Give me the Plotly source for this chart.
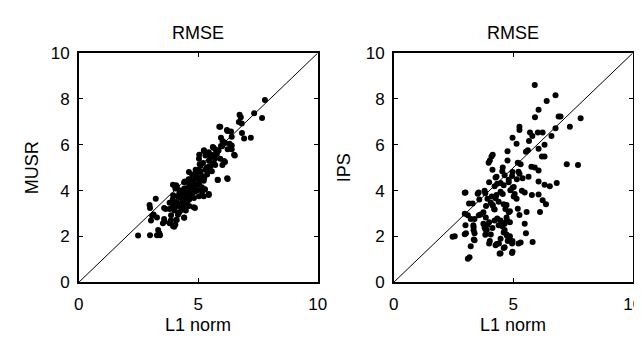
import plotly.graph_objects as go

# ---------------- data ----------------
# Left panel: L1 norm RMSE (x) vs MUSR RMSE (y)
musr_x = [
    7.79, 7.34, 7.67, 6.73, 6.78, 6.82, 6.70, 6.37, 6.83, 6.92, 7.20, 5.88, 6.20, 5.95, 6.03,
    6.31, 6.40, 6.50, 6.21, 5.81, 5.44, 5.28, 5.04, 5.24, 5.61, 5.78, 6.08, 5.61, 5.06, 4.94,
    4.61, 4.69, 4.44, 4.61, 4.81, 4.41, 4.10, 3.94, 3.99, 3.85, 3.57, 3.52, 3.27, 3.57, 3.94,
    4.10, 3.22, 2.96, 2.98, 3.13, 3.07, 3.02, 3.32, 3.37, 3.27, 3.40, 2.98, 2.48, 4.41,
    5.92, 6.22, 6.40, 6.02, 6.12, 6.53, 6.38, 6.40, 6.23, 6.00, 5.71, 5.64, 5.44, 5.23, 5.03,
    5.30, 5.50, 5.78, 5.92, 6.12, 6.01, 5.71, 5.44, 5.57, 5.30, 5.10, 4.89, 4.75, 4.96, 5.16,
    5.37, 5.82, 6.23, 5.23, 5.03, 4.82, 4.62, 4.41, 4.07, 4.04, 4.21, 4.41, 4.55, 4.75, 4.96,
    5.16, 5.27, 5.44, 5.23, 5.03, 4.82, 4.62, 4.34, 4.14, 3.93, 3.80, 3.96, 4.18, 4.41, 4.62,
    4.86, 4.48, 4.21, 4.00, 3.80, 3.63, 3.86, 4.04, 3.80, 3.59, 4.07, 4.41,
    4.10, 4.25, 4.35, 4.50, 4.60, 4.70, 4.80, 4.90, 5.00, 5.10, 5.20, 5.35, 5.45, 5.60, 5.70,
    5.85, 5.95, 4.30, 4.45, 4.55, 4.65, 4.75, 4.85, 4.95, 5.05, 5.15, 4.20, 4.05, 3.95, 4.50,
    4.65, 4.40, 4.30, 4.15, 3.90, 4.90, 5.25, 5.40, 5.50, 5.65,
]
musr_y = [
    7.95, 7.38, 7.17, 7.31, 7.20, 6.93, 7.00, 6.58, 6.52, 6.27, 6.31, 6.79, 6.65, 6.31, 6.15,
    6.04, 5.97, 5.56, 4.54, 4.47, 3.85, 4.06, 5.56, 5.76, 5.90, 5.70, 5.29, 5.15, 5.15, 4.74,
    4.81, 4.47, 4.40, 3.92, 3.27, 2.83, 2.72, 2.45, 2.42, 2.69, 2.76, 2.58, 2.83, 3.24, 4.26,
    4.19, 3.65, 3.37, 3.24, 2.96, 2.90, 2.69, 2.28, 2.14, 2.05, 2.05, 2.05, 2.04, 3.51,
    6.79, 6.60, 6.35, 6.14, 6.08, 5.53, 5.95, 5.80, 5.80, 5.94, 5.80, 5.87, 5.67, 5.73, 5.39,
    5.53, 5.46, 5.60, 5.39, 5.25, 5.12, 5.12, 5.05, 4.84, 4.91, 4.84, 4.91, 4.70, 4.57, 4.64,
    4.70, 4.46, 4.51, 4.43, 4.29, 4.43, 4.29, 4.36, 4.23, 4.09, 4.02, 4.09, 3.95, 3.88, 4.02,
    3.95, 4.05, 3.81, 3.75, 3.75, 3.68, 3.61, 3.61, 3.75, 3.61, 3.47, 3.40, 3.33, 3.40, 3.33,
    3.24, 3.13, 3.06, 3.13, 3.20, 3.20, 2.92, 2.51, 2.58, 2.65, 2.72, 2.82,
    3.50, 3.70, 3.90, 4.10, 4.50, 3.90, 4.10, 4.60, 4.90, 5.10, 5.20, 5.00, 5.30, 5.55, 5.40,
    5.75, 5.95, 3.45, 3.75, 3.55, 3.75, 4.25, 3.95, 4.25, 4.45, 4.15, 3.85, 3.30, 3.80, 3.90,
    4.05, 3.25, 3.15, 2.95, 3.25, 4.00, 4.55, 4.85, 5.05, 5.20,
]

# Right panel: L1 norm RMSE (x) vs IPS RMSE (y)
ips_x = [
    5.90, 6.77, 6.40, 6.06, 5.91, 6.90, 6.98, 7.82, 7.37, 6.77, 6.60, 6.23, 6.03, 5.80, 5.70,
    5.66, 5.26, 5.26, 4.97, 5.14, 6.31, 6.06, 6.20, 6.31, 5.61, 5.53, 4.76, 4.14, 4.09, 4.02,
    3.97, 4.76, 5.19, 5.31, 7.24, 7.71, 5.76, 5.90, 6.06, 4.56, 4.97, 5.26, 5.39, 5.64, 6.06,
    6.82, 6.31, 6.53, 6.06, 5.78, 6.23, 6.37, 6.12, 5.56, 5.48, 5.53, 5.81, 5.31, 4.97, 4.47,
    4.64, 4.31, 4.02, 4.06, 4.77, 4.86, 4.97, 4.72, 4.64, 5.26, 5.19, 5.36, 5.06, 5.48, 5.14,
    3.89, 3.80, 3.75, 3.85, 3.63, 3.38, 3.33, 3.38, 3.02, 3.00, 3.22, 2.55, 3.22, 3.17, 3.35,
    3.00, 2.97, 3.30, 3.55, 3.80, 3.92, 4.14, 4.22, 4.22, 4.47, 4.39, 4.64, 4.86, 4.72, 4.86,
    4.72, 4.39, 4.56, 4.97, 4.30, 4.47, 4.22, 4.81, 4.64, 4.30,
    2.46, 2.97, 2.97, 3.10, 3.15, 3.34, 3.34, 3.38, 3.51, 3.58, 3.56, 3.75, 3.83, 3.86, 3.83,
    3.83, 3.92, 3.99, 4.06, 4.13, 4.20, 4.10, 4.26, 4.33, 4.13, 3.99, 4.26, 4.40, 4.47, 4.60,
    4.60, 4.54, 4.74, 4.81, 4.67, 4.60, 4.47, 4.60, 4.81, 4.95, 4.88, 5.02, 5.02, 5.15, 5.22,
    4.26, 4.33, 3.99, 4.13, 4.54, 4.81, 4.95, 5.22, 4.95, 4.43, 3.10, 4.60, 4.74,
]
ips_y = [
    8.61, 8.16, 7.91, 7.53, 7.20, 7.23, 7.23, 7.16, 6.79, 6.72, 6.38, 6.54, 6.54, 6.38, 6.54,
    6.17, 6.79, 6.65, 6.31, 6.04, 6.00, 5.83, 5.49, 5.49, 5.76, 5.70, 5.72, 5.56, 5.49, 5.31,
    5.22, 5.31, 5.22, 5.15, 5.15, 5.12, 5.04, 5.01, 4.88, 5.01, 4.81, 4.74, 4.54, 4.60, 4.40,
    4.33, 4.26, 4.19, 3.83, 3.81, 3.58, 3.40, 3.07, 3.07, 2.55, 2.14, 1.76, 1.73, 1.33, 1.26,
    1.53, 1.67, 1.80, 2.08, 1.80, 2.01, 1.80, 2.08, 2.28, 2.94, 3.21, 3.99, 3.85, 3.92, 3.65,
    2.28, 2.39, 2.55, 2.83, 2.96, 2.76, 2.49, 2.14, 2.14, 2.49, 2.76, 2.01, 1.57, 1.09, 1.87,
    3.92, 2.99, 3.44, 3.92, 3.99, 3.65, 3.37, 3.17, 2.69, 2.69, 2.49, 2.55, 2.62, 2.83, 3.10,
    3.37, 3.51, 3.85, 4.12, 4.60, 4.33, 4.19, 4.47, 4.67, 3.81,
    1.99, 3.91, 2.10, 2.92, 3.44, 2.40, 2.27, 1.83, 3.86, 3.61, 2.92, 3.06, 3.88, 3.33, 2.31,
    2.07, 2.51, 2.62, 3.47, 3.36, 3.20, 3.74, 3.67, 2.78, 2.37, 1.69, 1.62, 1.69, 1.90, 2.17,
    2.58, 2.44, 2.71, 3.06, 3.20, 3.40, 3.95, 4.23, 4.36, 4.64, 4.02, 3.74, 4.16, 4.50, 4.82,
    4.57, 4.30, 4.36, 4.91, 4.84, 1.90, 1.69, 1.69, 1.28, 1.25, 1.03, 1.49, 2.03,
]

diag = [0, 10]                      # reference line y = x
x_ticks = [0, 5, 10]
y_ticks = [0, 2, 4, 6, 8, 10]
panel_title = "RMSE"
x_label = "L1 norm"
y_labels = ["MUSR", "IPS"]

# ---------------- figure ----------------
FONT = "Liberation Sans, Arial, Helvetica, sans-serif"
W, H = 642, 339

fig = go.Figure()

panels = [(musr_x, musr_y, "x", "y"), (ips_x, ips_y, "x2", "y2")]
for xs, ys, xa, ya in panels:
    fig.add_trace(go.Scatter(x=diag, y=diag, mode="lines",
                             line=dict(color="black", width=1),
                             xaxis=xa, yaxis=ya, hoverinfo="skip", showlegend=False))
    fig.add_trace(go.Scatter(x=xs, y=ys, mode="markers",
                             marker=dict(color="black", size=6, line=dict(width=0)),
                             xaxis=xa, yaxis=ya, showlegend=False))

x_domains = [[67.3 / W, 311.5 / W], [389.3 / W, 633.5 / W]]
y_domain = [1 - 281.0 / H, 1 - 38.3 / H]

common_ax = dict(range=[0, 10], showgrid=False, zeroline=False,
                 showline=True, linecolor="black", linewidth=1.6, mirror="ticks",
                 ticks="inside", ticklen=4, tickcolor="black", tickwidth=1,
                 tickfont=dict(family=FONT, size=17, color="black"))

fig.update_layout(
    width=W, height=H,
    margin=dict(l=0, r=0, t=0, b=0),
    paper_bgcolor="white", plot_bgcolor="white",
    font=dict(family=FONT, color="black"),
    xaxis=dict(domain=x_domains[0], anchor="y", tickvals=x_ticks, ticklabelstandoff=6, **common_ax),
    yaxis=dict(domain=y_domain, anchor="x", tickvals=y_ticks, ticklabelstandoff=4, **common_ax),
    xaxis2=dict(domain=x_domains[1], anchor="y2", tickvals=x_ticks, ticklabelstandoff=6, **common_ax),
    yaxis2=dict(domain=y_domain, anchor="x2", tickvals=y_ticks, ticklabelstandoff=4, **common_ax),
)

annotations = []
for i, dom in enumerate(x_domains):
    cx = (dom[0] + dom[1]) / 2
    annotations.append(dict(text=panel_title, x=cx, y=1 - 16.7 / H, xref="paper", yref="paper",
                            showarrow=False, xanchor="center", yanchor="middle",
                            font=dict(family=FONT, size=18, color="black")))
    annotations.append(dict(text=x_label, x=cx, y=1 - 326.5 / H, xref="paper", yref="paper",
                            showarrow=False, xanchor="center", yanchor="middle",
                            font=dict(family=FONT, size=18, color="black")))
ylab_x = [19.0 / W, 338.0 / W]
for i, lab in enumerate(y_labels):
    annotations.append(dict(text=lab, x=ylab_x[i], y=(y_domain[0] + y_domain[1]) / 2,
                            xref="paper", yref="paper", textangle=-90,
                            showarrow=False, xanchor="center", yanchor="middle",
                            font=dict(family=FONT, size=18, color="black")))
fig.update_layout(annotations=annotations)

fig.write_html("out.html")
